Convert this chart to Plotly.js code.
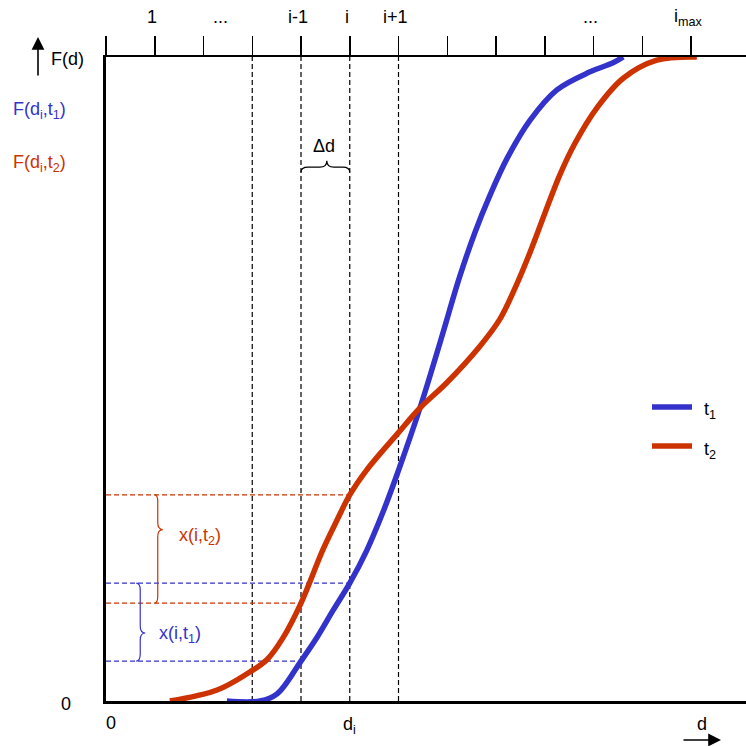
<!DOCTYPE html>
<html>
<head>
<meta charset="utf-8">
<script src="https://cdn.plot.ly/plotly-3.0.1.min.js"></script>
<style>html,body{margin:0;padding:0;background:#fff;}#chart{width:746px;height:746px;}</style>
</head>
<body>
<div id="chart"></div>
<script>
// ---- data (x in units of class index, F in [0,1]) ----
const t1_x = [2.48, 3.16, 3.51, 4.0, 4.33, 4.66, 5.0, 5.35, 5.68, 5.99, 6.44, 6.85, 7.26, 7.57, 7.88, 8.23, 8.70, 9.25, 9.93, 10.40, 10.61];
const t1_F = [0, 0, 0.011, 0.062, 0.099, 0.141, 0.183, 0.234, 0.293, 0.356, 0.455, 0.556, 0.660, 0.728, 0.786, 0.843, 0.902, 0.949, 0.977, 0.991, 1.0];
const t2_x = [1.31, 2.28, 2.95, 3.30, 3.63, 4.0, 4.45, 4.74, 5.0, 5.35, 5.99, 6.44, 7.0, 7.67, 8.08, 8.39, 8.70, 9.01, 9.31, 9.62, 10.07, 10.61, 11.30, 12.12];
const t2_F = [0, 0.017, 0.045, 0.064, 0.098, 0.152, 0.235, 0.281, 0.320, 0.359, 0.416, 0.455, 0.495, 0.551, 0.593, 0.641, 0.697, 0.759, 0.817, 0.866, 0.921, 0.967, 0.995, 1.0];
const tickPositions = [0,1,2,3,4,5,6,7,8,9,10,11,12];
const tickLabelPos = [1, 2.4, 4, 5, 6, 10, 12];
const tickLabelText = ['1', '...', 'i-1', 'i', 'i+1', '...', 'i<sub>max</sub>'];
const dashX = [3, 4, 5, 6];
const idxPrev = 4, idxCur = 5;
const seriesNames = ['t<sub>1</sub>', 't<sub>2</sub>'];

const BLUE = '#3333CC', RED = '#CC3300';
const FONT = 'Liberation Sans, Arial, sans-serif';
const XMAX = 640/48.75;

function valAt(xs, ys, x){ const k = xs.indexOf(x); return ys[k]; }
const b_prev = valAt(t1_x, t1_F, idxPrev), b_cur = valAt(t1_x, t1_F, idxCur);
const r_prev = valAt(t2_x, t2_F, idxPrev), r_cur = valAt(t2_x, t2_F, idxCur);

const traces = [
  {x: t1_x, y: t1_F, mode: 'lines', line: {color: BLUE, width: 5.5, shape: 'spline', smoothing: 1}, name: 't1', showlegend: false},
  {x: t2_x, y: t2_F, mode: 'lines', line: {color: RED, width: 5.5, shape: 'spline', smoothing: 1}, name: 't2', showlegend: false}
];

const shapes = [];
dashX.forEach(v => shapes.push({type: 'line', xref: 'x', yref: 'y', x0: v, x1: v, y0: 0, y1: 1, line: {color: '#000', width: 1.2, dash: '5px,3px'}, layer: 'below'}));
[[r_cur, idxCur, RED], [r_prev, idxPrev, RED], [b_cur, idxCur, BLUE], [b_prev, idxPrev, BLUE]].forEach(([f, xi, c]) =>
  shapes.push({type: 'line', xref: 'x', yref: 'y', x0: 0, x1: xi, y0: f, y1: f, line: {color: c, width: 1.2, dash: '5px,3px'}, layer: 'below'}));

// vertical brace "}"
function vbrace(xe, xs, xt, y0, y1, ym, r){
  return `M${xe},${y1} Q${xs},${y1} ${xs},${y1-r} L${xs},${ym+r} Q${xs},${ym} ${xt},${ym} Q${xs},${ym} ${xs},${ym-r} L${xs},${y0+r} Q${xs},${y0} ${xe},${y0}`;
}
function hbrace(x0, x1, xm, ye, ys, yt, r){
  return `M${x0},${ye} Q${x0},${ys} ${x0+r},${ys} L${xm-r},${ys} Q${xm},${ys} ${xm},${yt} Q${xm},${ys} ${xm+r},${ys} L${x1-r},${ys} Q${x1},${ys} ${x1},${ye}`;
}
const px = 1/48.75, py = 1/644;
shapes.push({type: 'path', xref: 'x', yref: 'y', path: vbrace(1.0, 1.0+3*px, 1.0+8*px, r_prev, r_cur, r_prev + (r_cur-r_prev)*0.68, 7*py), line: {color: RED, width: 1.2}});
shapes.push({type: 'path', xref: 'x', yref: 'y', path: vbrace(0.62, 0.62+4*px, 0.62+9*px, b_prev, b_cur, b_prev + (b_cur-b_prev)*0.36, 7*py), line: {color: BLUE, width: 1.2}});
shapes.push({type: 'path', xref: 'x', yref: 'y', path: hbrace(idxPrev, idxCur, 4.53, 0.821, 0.829, 0.839, 7*px), line: {color: '#000', width: 1.2}});

// legend lines
shapes.push({type: 'line', xref: 'paper', yref: 'paper', x0: (652-106)/640, x1: (692-106)/640, y0: (701-407)/644, y1: (701-407)/644, line: {color: BLUE, width: 5.5}});
shapes.push({type: 'line', xref: 'paper', yref: 'paper', x0: (652-106)/640, x1: (692-106)/640, y0: (701-446)/644, y1: (701-446)/644, line: {color: RED, width: 5.5}});

const f18 = (c) => ({family: FONT, size: 18, color: c || '#000'});
const annotations = [];
tickLabelPos.forEach((p, k) => annotations.push({x: p, xref: 'x', y: (701-17)/644, yref: 'paper', text: tickLabelText[k], showarrow: false, font: f18(), xanchor: 'center', yanchor: 'middle', xshift: -3}));
annotations.push(
  {x: (67-106)/640, y: (701-59)/644, xref: 'paper', yref: 'paper', text: 'F(d)', showarrow: false, font: f18(), xanchor: 'center', yanchor: 'middle'},
  {x: (38-106)/640, y: (701-37)/644, xref: 'paper', yref: 'paper', text: '', showarrow: true, ax: 0, ay: 40, arrowhead: 2, arrowsize: 1.6, arrowwidth: 1.6, arrowcolor: '#000'},
  {x: (39-106)/640, y: (701-110)/644, xref: 'paper', yref: 'paper', text: 'F(d<sub>i</sub>,t<sub>1</sub>)', showarrow: false, font: f18(BLUE), xanchor: 'center', yanchor: 'middle'},
  {x: (39-106)/640, y: (701-163)/644, xref: 'paper', yref: 'paper', text: 'F(d<sub>i</sub>,t<sub>2</sub>)', showarrow: false, font: f18(RED), xanchor: 'center', yanchor: 'middle'},
  {x: (66-106)/640, y: (701-704)/644, xref: 'paper', yref: 'paper', text: '0', showarrow: false, font: f18(), xanchor: 'center', yanchor: 'middle'},
  {x: (111-106)/640, y: (701-723)/644, xref: 'paper', yref: 'paper', text: '0', showarrow: false, font: f18(), xanchor: 'center', yanchor: 'middle'},
  {x: idxCur, xref: 'x', y: (701-725)/644, yref: 'paper', text: 'd<sub>i</sub>', showarrow: false, font: f18(), xanchor: 'center', yanchor: 'middle'},
  {x: (702-106)/640, y: (701-724)/644, xref: 'paper', yref: 'paper', text: 'd', showarrow: false, font: f18(), xanchor: 'center', yanchor: 'middle'},
  {x: (721-106)/640, y: (701-740)/644, xref: 'paper', yref: 'paper', text: '', showarrow: true, ax: -39, ay: 0, arrowhead: 2, arrowsize: 1.6, arrowwidth: 1.6, arrowcolor: '#000'},
  {x: 4.47, xref: 'x', y: 0.862, yref: 'y', text: 'Δd', showarrow: false, font: f18(), xanchor: 'center', yanchor: 'middle'},
  {x: 1.46, xref: 'x', y: 0.255, yref: 'y', text: 'x(i,t<sub>2</sub>)', showarrow: false, font: f18(RED), xanchor: 'left', yanchor: 'middle'},
  {x: 1.05, xref: 'x', y: 0.103, yref: 'y', text: 'x(i,t<sub>1</sub>)', showarrow: false, font: f18(BLUE), xanchor: 'left', yanchor: 'middle'},
  {x: (702-106)/640, y: (701-410)/644, xref: 'paper', yref: 'paper', text: seriesNames[0], showarrow: false, font: f18(), xanchor: 'left', yanchor: 'middle'},
  {x: (702-106)/640, y: (701-450)/644, xref: 'paper', yref: 'paper', text: seriesNames[1], showarrow: false, font: f18(), xanchor: 'left', yanchor: 'middle'}
);

const layout = {
  width: 746, height: 746,
  margin: {l: 106, r: 0, t: 57, b: 45, pad: 0},
  paper_bgcolor: '#fff', plot_bgcolor: '#fff',
  showlegend: false,
  xaxis: {range: [0, XMAX], side: 'top', showgrid: false, zeroline: false, showline: true, linecolor: '#000', linewidth: 2.5, mirror: true,
          ticks: 'outside', tickvals: tickPositions, ticklen: 19, tickwidth: 1.5, tickcolor: '#000', showticklabels: false},
  yaxis: {range: [0, 1], showgrid: false, zeroline: false, showline: true, linecolor: '#000', linewidth: 3, ticks: '', showticklabels: false},
  shapes: shapes,
  annotations: annotations
};
Plotly.newPlot('chart', traces, layout, {staticPlot: true, displayModeBar: false});
</script>
</body>
</html>
